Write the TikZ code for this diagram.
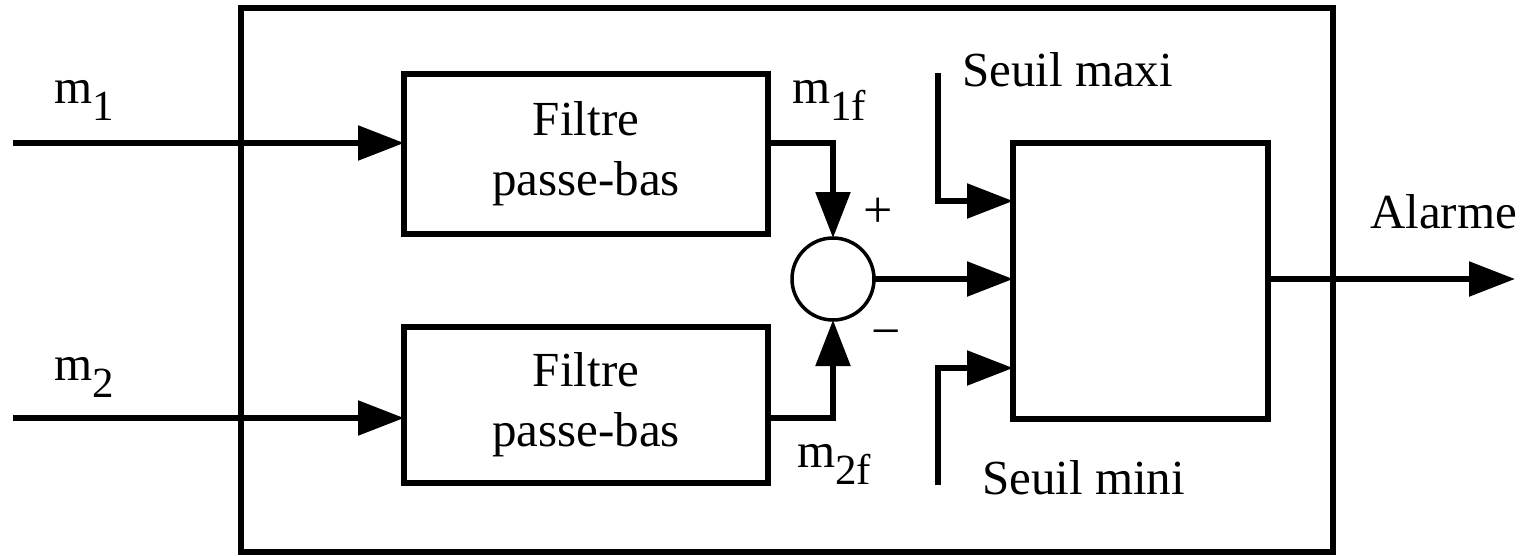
\documentclass[tikz,border=0pt]{standalone}
\usepackage{fontspec}
\setmainfont{Liberation Serif}
\usetikzlibrary{arrows.meta}
\begin{document}
\begin{tikzpicture}[x=1pt,y=-1pt,
  wire/.style={line width=5.5pt},
  arr/.style={wire,-{Triangle[length=46pt,width=34pt]}},
  blockbox/.style={draw,line width=5.5pt,rectangle,inner sep=0pt,outer sep=0pt},
  lbl/.style={inner sep=0pt,outer sep=0pt,anchor=base west,font=\fontsize{49}{60}\selectfont},
  sgn/.style={inner sep=0pt,outer sep=0pt,font=\fontsize{52}{60}\selectfont},
]
\newcommand{\subidx}[1]{\raisebox{-17pt}{\fontsize{43}{43}\selectfont #1}}
\useasboundingbox (0,0) rectangle (1528,555);

% blocks
\node[blockbox,minimum width=1092pt,minimum height=544pt] (outer) at (787,280) {};
\node[blockbox,minimum width=364pt,minimum height=160pt,align=center,
      font=\fontsize{49}{60}\selectfont] (f1) at (586,154) {Filtre\\passe-bas};
\node[blockbox,minimum width=364pt,minimum height=156pt,align=center,
      font=\fontsize{49}{60}\selectfont] (f2) at (586,405) {Filtre\\passe-bas};
\node[draw,circle,line width=3.5pt,minimum size=82pt,inner sep=0pt,outer sep=0pt] (sum) at (833,279) {};
\node[blockbox,minimum width=255pt,minimum height=276pt] (cmp) at (1140.5,281) {};

% free ends
\coordinate (in1) at (13,143);
\coordinate (in2) at (13,418);
\coordinate (smax) at (938,73);
\coordinate (smin) at (938,485);
\coordinate (out) at (1515,279);

% connectors
\draw[arr] (in1) -- (in1 -| f1.west);
\draw[arr] (in2) -- (in2 -| f2.west);
\draw[arr] (f1.east |- in1) -| (sum.north);
\draw[arr] (f2.east |- in2) -| (sum.south);
\draw[arr] (sum.east) -- (sum.east -| cmp.west);
\draw[arr] (smax) |- ([yshift=80pt]cmp.west);
\draw[arr] (smin) |- ([yshift=-87pt]cmp.west);
\draw[arr] (out -| cmp.east) -- (out);

% labels
\node[lbl] (lm1) at (54,103) {m\subidx{1}};
\node[lbl] (lm2) at (54,380) {m\subidx{2}};
\node[lbl] (lm1f) at (792,103) {m\subidx{1f}};
\node[lbl] (lm2f) at (797,467) {m\subidx{2f}};
\node[sgn] (plus) at (878,213) {+};
\node[sgn] (minus) at (886,339) {−};
\node[lbl] (smaxl) at (962,86) {Seuil maxi};
\node[lbl] (sminl) at (982,494) {Seuil mini};
\node[lbl] (alarm) at (1370,228) {Alarme};
\end{tikzpicture}
\end{document}
